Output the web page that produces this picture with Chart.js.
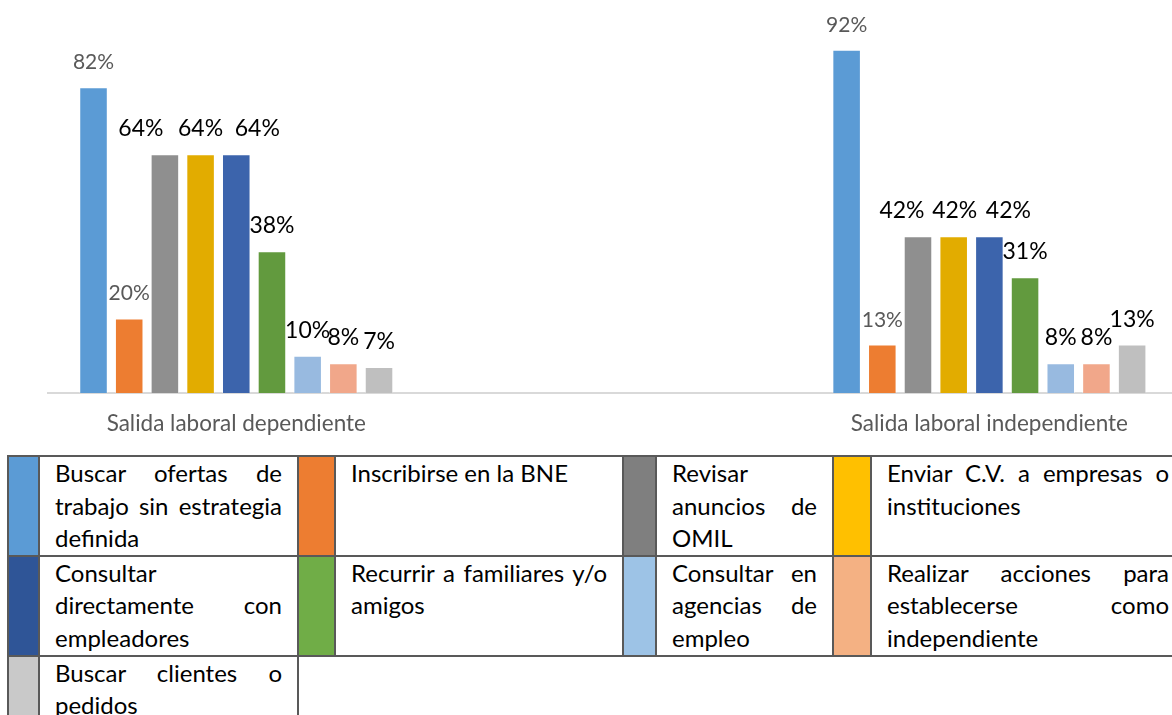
<!DOCTYPE html>
<html lang="es">
<head>
<meta charset="utf-8">
<title>Salida laboral</title>
<script src="https://cdn.jsdelivr.net/npm/chart.js@4.4.1/dist/chart.umd.min.js"></script>
<style>
body { margin: 0; background: #fff; overflow: hidden; font-family: Lato, sans-serif; }
#zonaGrafico { position: absolute; left: 0; top: 0; width: 1172px; height: 460px; }
#leyenda { position: absolute; left: 7px; top: 455px; width: 1177px; border-collapse: collapse; table-layout: fixed; background: #fff; }
#leyenda td { border: 2px solid #595959; padding: 0 15px; vertical-align: top; text-align: justify; font-size: 24px; line-height: 32.5px; color: #000; }
#leyenda td.color { padding: 0; }
</style>
</head>
<body>
<div id="zonaGrafico"><canvas id="grafico"></canvas></div>
<table id="leyenda"></table>
<script>
const categorias = ['Salida laboral dependiente', 'Salida laboral independiente'];
const series = [
    'Buscar ofertas de trabajo sin estrategia definida',
    'Inscribirse en la BNE',
    'Revisar anuncios de OMIL',
    'Enviar C.V. a empresas o instituciones',
    'Consultar directamente con empleadores',
    'Recurrir a familiares y/o amigos',
    'Consultar en agencias de empleo',
    'Realizar acciones para establecerse como independiente',
    'Buscar clientes o pedidos'
];
const dependiente = [82, 20, 64, 64, 64, 38, 10, 8, 7];
const independiente = [92, 13, 42, 42, 42, 31, 8, 8, 13];
const valores = [dependiente, independiente];

const coloresBarra = ['#5B9BD5', '#ED7D31', '#8F8F8F', '#E2AC00', '#3C64AC', '#629A3E', '#98BAE0', '#F1A78A', '#BFBFBF'];
const coloresLeyenda = ['#5B9BD5', '#ED7D31', '#7F7F7F', '#FFC000', '#2F5597', '#70AD47', '#9DC3E6', '#F4B183', '#C9C9C9'];

Chart.defaults.font.family = 'Lato, sans-serif';

// etiquetas de porcentaje sobre cada barra
const etiquetas = {
    id: 'etiquetas',
    afterDatasetsDraw(chart, args, opts) {
        const ctx = chart.ctx;
        ctx.save();
        ctx.textAlign = 'center';
        ctx.textBaseline = 'alphabetic';
        chart.data.datasets.forEach((ds, i) => {
            const gris = i < 2;
            ctx.font = (gris ? '21px' : '23px') + ' Lato, sans-serif';
            ctx.fillStyle = gris ? '#595959' : '#000000';
            chart.getDatasetMeta(i).data.forEach((bar, j) => {
                const dx = (opts.desplazar[i] || [0, 0])[j];
                ctx.fillText(ds.data[j].y + '%', bar.x + dx, bar.y - 18);
            });
        });
        ctx.restore();
    }
};

new Chart(document.getElementById('grafico').getContext('2d'), {
    type: 'bar',
    data: {
        datasets: series.map((nombre, i) => ({
            label: nombre,
            // cada categoria ocupa una posicion par del eje (0, 2)
            data: categorias.map((c, j) => ({ x: j * 2, y: valores[j][i] })),
            backgroundColor: coloresBarra[i],
            borderColor: 'rgba(255,255,255,0.35)',
            borderWidth: 1,
            categoryPercentage: 0.4265,
            barPercentage: 0.8
        }))
    },
    options: {
        responsive: true,
        maintainAspectRatio: false,
        animation: false,
        layout: { padding: { left: 48, right: 0, top: 20, bottom: 6 } },
        plugins: {
            legend: { display: false },
            tooltip: { enabled: false },
            // etiquetas separadas para que no se encimen
            etiquetas: { desplazar: { 2: [-24, -16], 3: [0, 1], 4: [21, 19] } }
        },
        scales: {
            x: {
                type: 'linear',
                offset: false,
                min: -0.5,
                max: 2.485,
                grid: { display: false, drawTicks: false },
                border: { display: true, color: '#D9D9D9', width: 2 },
                afterBuildTicks: s => { s.ticks = categorias.map((c, j) => ({ value: j * 2 })); },
                ticks: {
                    callback: v => categorias[v / 2],
                    color: '#595959',
                    font: { size: 22.5 },
                    padding: 17,
                    maxRotation: 0,
                    autoSkip: false
                }
            },
            y: { display: false, min: 0, max: 100 }
        }
    },
    plugins: [etiquetas]
});

// tabla de leyenda, 4 series por fila
function armarLeyenda() {
    const tabla = document.getElementById('leyenda');
    const anchos = [31, 259, 37, 288, 33, 177, 38, 314];
    let html = '<colgroup>' + anchos.map(a => `<col style="width:${a}px">`).join('') + '</colgroup>';
    const altos = [98, 100, 100];
    for (let f = 0; f * 4 < series.length; f++) {
        html += `<tr style="height:${altos[f]}px">`;
        series.slice(f * 4, f * 4 + 4).forEach((nombre, k) => {
            const i = f * 4 + k;
            html += `<td class="color" style="background:${coloresLeyenda[i]}"></td><td>${nombre}</td>`;
        });
        html += '</tr>';
    }
    tabla.innerHTML = html;
}
armarLeyenda();
</script>
</body>
</html>
